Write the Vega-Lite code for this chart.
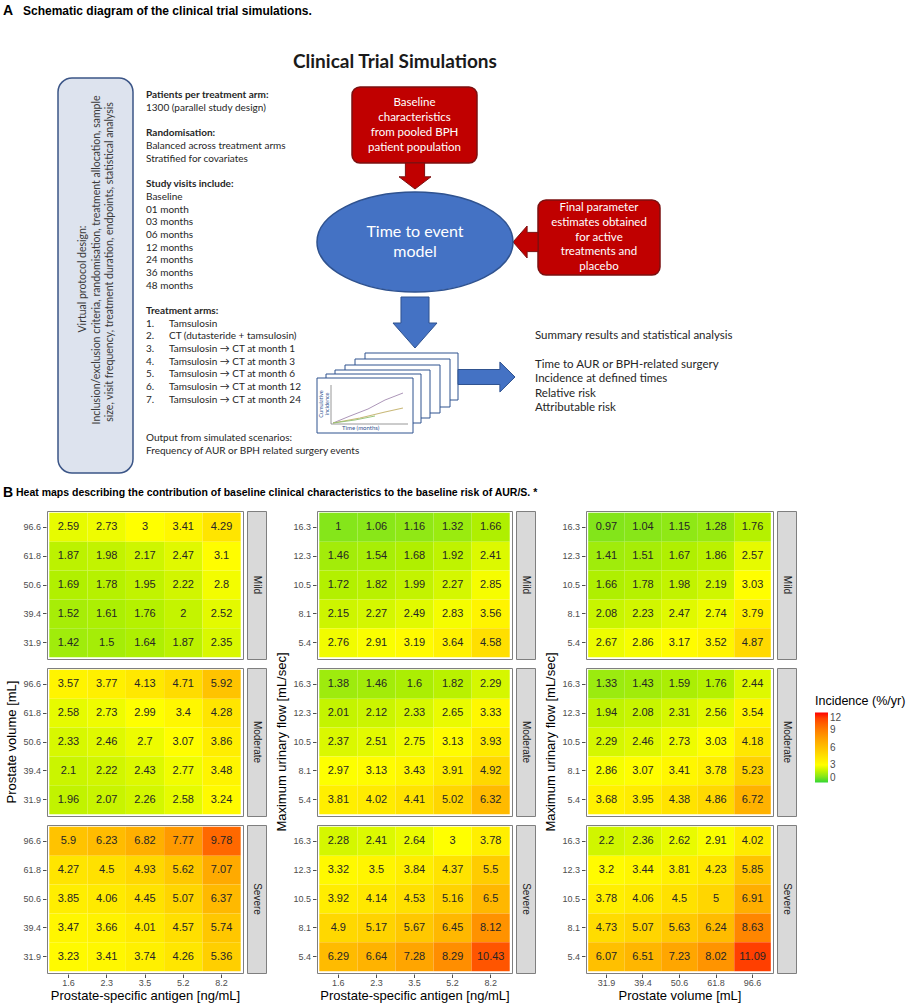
{
 "$schema": "https://vega.github.io/schema/vega-lite/v6.json",
 "padding": {"left": 3, "top": 0, "right": 0, "bottom": 0},
 "background": "white",
 "config": {
  "font": "Liberation Sans",
  "view": {"stroke": null},
  "axis": {"grid": false, "domain": false, "labelFontSize": 9, "labelColor": "#4d4d4d", "tickColor": "#4d4d4d", "tickSize": 3.5, "labelPadding": 2, "titleFontSize": 13, "titleFontWeight": "normal", "titleColor": "#000000", "titlePadding": 3},
  "axisX": {"labelAngle": 0, "labelPadding": 1, "titlePadding": 2},
  "header": {"labels": false, "titleFontSize": 13, "titleFontWeight": "normal", "titleColor": "#000000", "titlePadding": -7, "labelPadding": 0},
  "legend": {"orient": "none", "legendX": 768, "legendY": 695, "direction": "vertical", "gradientLength": 70, "gradientThickness": 13, "titleFontSize": 12.5, "titleFontWeight": "normal", "titleColor": "#000000", "labelFontSize": 10, "labelColor": "#4d4d4d", "gradientStrokeWidth": 0, "titlePadding": 5, "labelOffset": 4, "labelOverlap": false}
 },
 "datasets": {
  "c1": [
   {"sev":"Mild","x":"1.6","y":"96.6","inc":2.59},{"sev":"Mild","x":"2.3","y":"96.6","inc":2.73},{"sev":"Mild","x":"3.5","y":"96.6","inc":3},{"sev":"Mild","x":"5.2","y":"96.6","inc":3.41},{"sev":"Mild","x":"8.2","y":"96.6","inc":4.29},
   {"sev":"Mild","x":"1.6","y":"61.8","inc":1.87},{"sev":"Mild","x":"2.3","y":"61.8","inc":1.98},{"sev":"Mild","x":"3.5","y":"61.8","inc":2.17},{"sev":"Mild","x":"5.2","y":"61.8","inc":2.47},{"sev":"Mild","x":"8.2","y":"61.8","inc":3.1},
   {"sev":"Mild","x":"1.6","y":"50.6","inc":1.69},{"sev":"Mild","x":"2.3","y":"50.6","inc":1.78},{"sev":"Mild","x":"3.5","y":"50.6","inc":1.95},{"sev":"Mild","x":"5.2","y":"50.6","inc":2.22},{"sev":"Mild","x":"8.2","y":"50.6","inc":2.8},
   {"sev":"Mild","x":"1.6","y":"39.4","inc":1.52},{"sev":"Mild","x":"2.3","y":"39.4","inc":1.61},{"sev":"Mild","x":"3.5","y":"39.4","inc":1.76},{"sev":"Mild","x":"5.2","y":"39.4","inc":2},{"sev":"Mild","x":"8.2","y":"39.4","inc":2.52},
   {"sev":"Mild","x":"1.6","y":"31.9","inc":1.42},{"sev":"Mild","x":"2.3","y":"31.9","inc":1.5},{"sev":"Mild","x":"3.5","y":"31.9","inc":1.64},{"sev":"Mild","x":"5.2","y":"31.9","inc":1.87},{"sev":"Mild","x":"8.2","y":"31.9","inc":2.35},
   {"sev":"Moderate","x":"1.6","y":"96.6","inc":3.57},{"sev":"Moderate","x":"2.3","y":"96.6","inc":3.77},{"sev":"Moderate","x":"3.5","y":"96.6","inc":4.13},{"sev":"Moderate","x":"5.2","y":"96.6","inc":4.71},{"sev":"Moderate","x":"8.2","y":"96.6","inc":5.92},
   {"sev":"Moderate","x":"1.6","y":"61.8","inc":2.58},{"sev":"Moderate","x":"2.3","y":"61.8","inc":2.73},{"sev":"Moderate","x":"3.5","y":"61.8","inc":2.99},{"sev":"Moderate","x":"5.2","y":"61.8","inc":3.4},{"sev":"Moderate","x":"8.2","y":"61.8","inc":4.28},
   {"sev":"Moderate","x":"1.6","y":"50.6","inc":2.33},{"sev":"Moderate","x":"2.3","y":"50.6","inc":2.46},{"sev":"Moderate","x":"3.5","y":"50.6","inc":2.7},{"sev":"Moderate","x":"5.2","y":"50.6","inc":3.07},{"sev":"Moderate","x":"8.2","y":"50.6","inc":3.86},
   {"sev":"Moderate","x":"1.6","y":"39.4","inc":2.1},{"sev":"Moderate","x":"2.3","y":"39.4","inc":2.22},{"sev":"Moderate","x":"3.5","y":"39.4","inc":2.43},{"sev":"Moderate","x":"5.2","y":"39.4","inc":2.77},{"sev":"Moderate","x":"8.2","y":"39.4","inc":3.48},
   {"sev":"Moderate","x":"1.6","y":"31.9","inc":1.96},{"sev":"Moderate","x":"2.3","y":"31.9","inc":2.07},{"sev":"Moderate","x":"3.5","y":"31.9","inc":2.26},{"sev":"Moderate","x":"5.2","y":"31.9","inc":2.58},{"sev":"Moderate","x":"8.2","y":"31.9","inc":3.24},
   {"sev":"Severe","x":"1.6","y":"96.6","inc":5.9},{"sev":"Severe","x":"2.3","y":"96.6","inc":6.23},{"sev":"Severe","x":"3.5","y":"96.6","inc":6.82},{"sev":"Severe","x":"5.2","y":"96.6","inc":7.77},{"sev":"Severe","x":"8.2","y":"96.6","inc":9.78},
   {"sev":"Severe","x":"1.6","y":"61.8","inc":4.27},{"sev":"Severe","x":"2.3","y":"61.8","inc":4.5},{"sev":"Severe","x":"3.5","y":"61.8","inc":4.93},{"sev":"Severe","x":"5.2","y":"61.8","inc":5.62},{"sev":"Severe","x":"8.2","y":"61.8","inc":7.07},
   {"sev":"Severe","x":"1.6","y":"50.6","inc":3.85},{"sev":"Severe","x":"2.3","y":"50.6","inc":4.06},{"sev":"Severe","x":"3.5","y":"50.6","inc":4.45},{"sev":"Severe","x":"5.2","y":"50.6","inc":5.07},{"sev":"Severe","x":"8.2","y":"50.6","inc":6.37},
   {"sev":"Severe","x":"1.6","y":"39.4","inc":3.47},{"sev":"Severe","x":"2.3","y":"39.4","inc":3.66},{"sev":"Severe","x":"3.5","y":"39.4","inc":4.01},{"sev":"Severe","x":"5.2","y":"39.4","inc":4.57},{"sev":"Severe","x":"8.2","y":"39.4","inc":5.74},
   {"sev":"Severe","x":"1.6","y":"31.9","inc":3.23},{"sev":"Severe","x":"2.3","y":"31.9","inc":3.41},{"sev":"Severe","x":"3.5","y":"31.9","inc":3.74},{"sev":"Severe","x":"5.2","y":"31.9","inc":4.26},{"sev":"Severe","x":"8.2","y":"31.9","inc":5.36}
  ],
  "c2": [
   {"sev":"Mild","x":"1.6","y":"16.3","inc":1},{"sev":"Mild","x":"2.3","y":"16.3","inc":1.06},{"sev":"Mild","x":"3.5","y":"16.3","inc":1.16},{"sev":"Mild","x":"5.2","y":"16.3","inc":1.32},{"sev":"Mild","x":"8.2","y":"16.3","inc":1.66},
   {"sev":"Mild","x":"1.6","y":"12.3","inc":1.46},{"sev":"Mild","x":"2.3","y":"12.3","inc":1.54},{"sev":"Mild","x":"3.5","y":"12.3","inc":1.68},{"sev":"Mild","x":"5.2","y":"12.3","inc":1.92},{"sev":"Mild","x":"8.2","y":"12.3","inc":2.41},
   {"sev":"Mild","x":"1.6","y":"10.5","inc":1.72},{"sev":"Mild","x":"2.3","y":"10.5","inc":1.82},{"sev":"Mild","x":"3.5","y":"10.5","inc":1.99},{"sev":"Mild","x":"5.2","y":"10.5","inc":2.27},{"sev":"Mild","x":"8.2","y":"10.5","inc":2.85},
   {"sev":"Mild","x":"1.6","y":"8.1","inc":2.15},{"sev":"Mild","x":"2.3","y":"8.1","inc":2.27},{"sev":"Mild","x":"3.5","y":"8.1","inc":2.49},{"sev":"Mild","x":"5.2","y":"8.1","inc":2.83},{"sev":"Mild","x":"8.2","y":"8.1","inc":3.56},
   {"sev":"Mild","x":"1.6","y":"5.4","inc":2.76},{"sev":"Mild","x":"2.3","y":"5.4","inc":2.91},{"sev":"Mild","x":"3.5","y":"5.4","inc":3.19},{"sev":"Mild","x":"5.2","y":"5.4","inc":3.64},{"sev":"Mild","x":"8.2","y":"5.4","inc":4.58},
   {"sev":"Moderate","x":"1.6","y":"16.3","inc":1.38},{"sev":"Moderate","x":"2.3","y":"16.3","inc":1.46},{"sev":"Moderate","x":"3.5","y":"16.3","inc":1.6},{"sev":"Moderate","x":"5.2","y":"16.3","inc":1.82},{"sev":"Moderate","x":"8.2","y":"16.3","inc":2.29},
   {"sev":"Moderate","x":"1.6","y":"12.3","inc":2.01},{"sev":"Moderate","x":"2.3","y":"12.3","inc":2.12},{"sev":"Moderate","x":"3.5","y":"12.3","inc":2.33},{"sev":"Moderate","x":"5.2","y":"12.3","inc":2.65},{"sev":"Moderate","x":"8.2","y":"12.3","inc":3.33},
   {"sev":"Moderate","x":"1.6","y":"10.5","inc":2.37},{"sev":"Moderate","x":"2.3","y":"10.5","inc":2.51},{"sev":"Moderate","x":"3.5","y":"10.5","inc":2.75},{"sev":"Moderate","x":"5.2","y":"10.5","inc":3.13},{"sev":"Moderate","x":"8.2","y":"10.5","inc":3.93},
   {"sev":"Moderate","x":"1.6","y":"8.1","inc":2.97},{"sev":"Moderate","x":"2.3","y":"8.1","inc":3.13},{"sev":"Moderate","x":"3.5","y":"8.1","inc":3.43},{"sev":"Moderate","x":"5.2","y":"8.1","inc":3.91},{"sev":"Moderate","x":"8.2","y":"8.1","inc":4.92},
   {"sev":"Moderate","x":"1.6","y":"5.4","inc":3.81},{"sev":"Moderate","x":"2.3","y":"5.4","inc":4.02},{"sev":"Moderate","x":"3.5","y":"5.4","inc":4.41},{"sev":"Moderate","x":"5.2","y":"5.4","inc":5.02},{"sev":"Moderate","x":"8.2","y":"5.4","inc":6.32},
   {"sev":"Severe","x":"1.6","y":"16.3","inc":2.28},{"sev":"Severe","x":"2.3","y":"16.3","inc":2.41},{"sev":"Severe","x":"3.5","y":"16.3","inc":2.64},{"sev":"Severe","x":"5.2","y":"16.3","inc":3},{"sev":"Severe","x":"8.2","y":"16.3","inc":3.78},
   {"sev":"Severe","x":"1.6","y":"12.3","inc":3.32},{"sev":"Severe","x":"2.3","y":"12.3","inc":3.5},{"sev":"Severe","x":"3.5","y":"12.3","inc":3.84},{"sev":"Severe","x":"5.2","y":"12.3","inc":4.37},{"sev":"Severe","x":"8.2","y":"12.3","inc":5.5},
   {"sev":"Severe","x":"1.6","y":"10.5","inc":3.92},{"sev":"Severe","x":"2.3","y":"10.5","inc":4.14},{"sev":"Severe","x":"3.5","y":"10.5","inc":4.53},{"sev":"Severe","x":"5.2","y":"10.5","inc":5.16},{"sev":"Severe","x":"8.2","y":"10.5","inc":6.5},
   {"sev":"Severe","x":"1.6","y":"8.1","inc":4.9},{"sev":"Severe","x":"2.3","y":"8.1","inc":5.17},{"sev":"Severe","x":"3.5","y":"8.1","inc":5.67},{"sev":"Severe","x":"5.2","y":"8.1","inc":6.45},{"sev":"Severe","x":"8.2","y":"8.1","inc":8.12},
   {"sev":"Severe","x":"1.6","y":"5.4","inc":6.29},{"sev":"Severe","x":"2.3","y":"5.4","inc":6.64},{"sev":"Severe","x":"3.5","y":"5.4","inc":7.28},{"sev":"Severe","x":"5.2","y":"5.4","inc":8.29},{"sev":"Severe","x":"8.2","y":"5.4","inc":10.43}
  ],
  "c3": [
   {"sev":"Mild","x":"31.9","y":"16.3","inc":0.97},{"sev":"Mild","x":"39.4","y":"16.3","inc":1.04},{"sev":"Mild","x":"50.6","y":"16.3","inc":1.15},{"sev":"Mild","x":"61.8","y":"16.3","inc":1.28},{"sev":"Mild","x":"96.6","y":"16.3","inc":1.76},
   {"sev":"Mild","x":"31.9","y":"12.3","inc":1.41},{"sev":"Mild","x":"39.4","y":"12.3","inc":1.51},{"sev":"Mild","x":"50.6","y":"12.3","inc":1.67},{"sev":"Mild","x":"61.8","y":"12.3","inc":1.86},{"sev":"Mild","x":"96.6","y":"12.3","inc":2.57},
   {"sev":"Mild","x":"31.9","y":"10.5","inc":1.66},{"sev":"Mild","x":"39.4","y":"10.5","inc":1.78},{"sev":"Mild","x":"50.6","y":"10.5","inc":1.98},{"sev":"Mild","x":"61.8","y":"10.5","inc":2.19},{"sev":"Mild","x":"96.6","y":"10.5","inc":3.03},
   {"sev":"Mild","x":"31.9","y":"8.1","inc":2.08},{"sev":"Mild","x":"39.4","y":"8.1","inc":2.23},{"sev":"Mild","x":"50.6","y":"8.1","inc":2.47},{"sev":"Mild","x":"61.8","y":"8.1","inc":2.74},{"sev":"Mild","x":"96.6","y":"8.1","inc":3.79},
   {"sev":"Mild","x":"31.9","y":"5.4","inc":2.67},{"sev":"Mild","x":"39.4","y":"5.4","inc":2.86},{"sev":"Mild","x":"50.6","y":"5.4","inc":3.17},{"sev":"Mild","x":"61.8","y":"5.4","inc":3.52},{"sev":"Mild","x":"96.6","y":"5.4","inc":4.87},
   {"sev":"Moderate","x":"31.9","y":"16.3","inc":1.33},{"sev":"Moderate","x":"39.4","y":"16.3","inc":1.43},{"sev":"Moderate","x":"50.6","y":"16.3","inc":1.59},{"sev":"Moderate","x":"61.8","y":"16.3","inc":1.76},{"sev":"Moderate","x":"96.6","y":"16.3","inc":2.44},
   {"sev":"Moderate","x":"31.9","y":"12.3","inc":1.94},{"sev":"Moderate","x":"39.4","y":"12.3","inc":2.08},{"sev":"Moderate","x":"50.6","y":"12.3","inc":2.31},{"sev":"Moderate","x":"61.8","y":"12.3","inc":2.56},{"sev":"Moderate","x":"96.6","y":"12.3","inc":3.54},
   {"sev":"Moderate","x":"31.9","y":"10.5","inc":2.29},{"sev":"Moderate","x":"39.4","y":"10.5","inc":2.46},{"sev":"Moderate","x":"50.6","y":"10.5","inc":2.73},{"sev":"Moderate","x":"61.8","y":"10.5","inc":3.03},{"sev":"Moderate","x":"96.6","y":"10.5","inc":4.18},
   {"sev":"Moderate","x":"31.9","y":"8.1","inc":2.86},{"sev":"Moderate","x":"39.4","y":"8.1","inc":3.07},{"sev":"Moderate","x":"50.6","y":"8.1","inc":3.41},{"sev":"Moderate","x":"61.8","y":"8.1","inc":3.78},{"sev":"Moderate","x":"96.6","y":"8.1","inc":5.23},
   {"sev":"Moderate","x":"31.9","y":"5.4","inc":3.68},{"sev":"Moderate","x":"39.4","y":"5.4","inc":3.95},{"sev":"Moderate","x":"50.6","y":"5.4","inc":4.38},{"sev":"Moderate","x":"61.8","y":"5.4","inc":4.86},{"sev":"Moderate","x":"96.6","y":"5.4","inc":6.72},
   {"sev":"Severe","x":"31.9","y":"16.3","inc":2.2},{"sev":"Severe","x":"39.4","y":"16.3","inc":2.36},{"sev":"Severe","x":"50.6","y":"16.3","inc":2.62},{"sev":"Severe","x":"61.8","y":"16.3","inc":2.91},{"sev":"Severe","x":"96.6","y":"16.3","inc":4.02},
   {"sev":"Severe","x":"31.9","y":"12.3","inc":3.2},{"sev":"Severe","x":"39.4","y":"12.3","inc":3.44},{"sev":"Severe","x":"50.6","y":"12.3","inc":3.81},{"sev":"Severe","x":"61.8","y":"12.3","inc":4.23},{"sev":"Severe","x":"96.6","y":"12.3","inc":5.85},
   {"sev":"Severe","x":"31.9","y":"10.5","inc":3.78},{"sev":"Severe","x":"39.4","y":"10.5","inc":4.06},{"sev":"Severe","x":"50.6","y":"10.5","inc":4.5},{"sev":"Severe","x":"61.8","y":"10.5","inc":5},{"sev":"Severe","x":"96.6","y":"10.5","inc":6.91},
   {"sev":"Severe","x":"31.9","y":"8.1","inc":4.73},{"sev":"Severe","x":"39.4","y":"8.1","inc":5.07},{"sev":"Severe","x":"50.6","y":"8.1","inc":5.63},{"sev":"Severe","x":"61.8","y":"8.1","inc":6.24},{"sev":"Severe","x":"96.6","y":"8.1","inc":8.63},
   {"sev":"Severe","x":"31.9","y":"5.4","inc":6.07},{"sev":"Severe","x":"39.4","y":"5.4","inc":6.51},{"sev":"Severe","x":"50.6","y":"5.4","inc":7.23},{"sev":"Severe","x":"61.8","y":"5.4","inc":8.02},{"sev":"Severe","x":"96.6","y":"5.4","inc":11.09}
  ],
  "strips": [{"sev": "Mild"}, {"sev": "Moderate"}, {"sev": "Severe"}]
 },
 "spacing": 5,
 "vconcat": [
  {
   "width": 863, "height": 505,
   "encoding": {
    "x": {"field": "x", "type": "quantitative", "scale": {"domain": [47, 910], "nice": false, "zero": false}, "axis": null},
    "y": {"field": "y", "type": "quantitative", "scale": {"domain": [0, 505], "nice": false, "zero": false, "reverse": true}, "axis": null}
   },
   "layer": [
    {"data": {"values": [{"x": 58, "x2": 133, "y": 78, "y2": 473}]}, "mark": {"type": "rect", "fill": "#dde3ee", "stroke": "#3b5587", "strokeWidth": 1.5, "cornerRadius": 14}, "encoding": {"x2": {"field": "x2"}, "y2": {"field": "y2"}}},
    {"data": {"values": [
      {"t": "Virtual protocol design:", "x": 83, "y": 279},
      {"t": "Inclusion/exclusion criteria, randomisation, treatment allocation, sample", "x": 97, "y": 260},
      {"t": "size, visit frequency, treatment duration, endpoints, statistical analysis", "x": 110, "y": 262}]},
     "mark": {"type": "text", "angle": 270, "font": "Lato", "fontSize": 10.5, "color": "#3a3a3a", "align": "center", "baseline": "middle"}, "encoding": {"text": {"field": "t"}}},
    {"data": {"values": [
      {"t": "1300 (parallel study design)", "x": 146, "y": 108},
      {"t": "Balanced across treatment arms", "x": 146, "y": 146},
      {"t": "Stratified for covariates", "x": 146, "y": 159},
      {"t": "Baseline", "x": 146, "y": 197},
      {"t": "01 month", "x": 146, "y": 210},
      {"t": "03 months", "x": 146, "y": 222},
      {"t": "06 months", "x": 146, "y": 235},
      {"t": "12 months", "x": 146, "y": 248},
      {"t": "24 months", "x": 146, "y": 260},
      {"t": "36 months", "x": 146, "y": 273},
      {"t": "48 months", "x": 146, "y": 286},
      {"t": "1.", "x": 146, "y": 324}, {"t": "Tamsulosin", "x": 169, "y": 324},
      {"t": "2.", "x": 146, "y": 336}, {"t": "CT (dutasteride + tamsulosin)", "x": 169, "y": 336},
      {"t": "3.", "x": 146, "y": 349}, {"t": "Tamsulosin → CT at month 1", "x": 169, "y": 349},
      {"t": "4.", "x": 146, "y": 362}, {"t": "Tamsulosin → CT at month 3", "x": 169, "y": 362},
      {"t": "5.", "x": 146, "y": 374}, {"t": "Tamsulosin → CT at month 6", "x": 169, "y": 374},
      {"t": "6.", "x": 146, "y": 387}, {"t": "Tamsulosin → CT at month 12", "x": 169, "y": 387},
      {"t": "7.", "x": 146, "y": 400}, {"t": "Tamsulosin → CT at month 24", "x": 169, "y": 400},
      {"t": "Output from simulated scenarios:", "x": 146, "y": 438},
      {"t": "Frequency of AUR or BPH related surgery events", "x": 146, "y": 451}]},
     "mark": {"type": "text", "font": "Lato", "fontSize": 10, "color": "#262626", "align": "left", "baseline": "middle"}, "encoding": {"text": {"field": "t"}}},
    {"data": {"values": [
      {"t": "Patients per treatment arm:", "x": 146, "y": 95},
      {"t": "Randomisation:", "x": 146, "y": 133},
      {"t": "Study visits include:", "x": 146, "y": 184},
      {"t": "Treatment arms:", "x": 146, "y": 311}]},
     "mark": {"type": "text", "font": "Lato", "fontSize": 10, "fontWeight": "bold", "color": "#262626", "align": "left", "baseline": "middle"}, "encoding": {"text": {"field": "t"}}},
    {"data": {"values": [{"x": 352, "x2": 477, "y": 87, "y2": 163}, {"x": 538, "x2": 660, "y": 200, "y2": 275}]}, "mark": {"type": "rect", "fill": "#c00000", "stroke": "#7b1010", "strokeWidth": 1.5, "cornerRadius": 8}, "encoding": {"x2": {"field": "x2"}, "y2": {"field": "y2"}}},
    {"data": {"values": [
      {"t": "Baseline", "x": 414.5, "y": 103},
      {"t": "characteristics", "x": 414.5, "y": 118},
      {"t": "from pooled BPH", "x": 414.5, "y": 133},
      {"t": "patient population", "x": 414.5, "y": 148},
      {"t": "Final parameter", "x": 599, "y": 208},
      {"t": "estimates obtained", "x": 599, "y": 223},
      {"t": "for active", "x": 599, "y": 238},
      {"t": "treatments and", "x": 599, "y": 252},
      {"t": "placebo", "x": 599, "y": 267}]},
     "mark": {"type": "text", "font": "Lato", "fontSize": 11.5, "color": "#ffffff", "align": "center", "baseline": "middle"}, "encoding": {"text": {"field": "t"}}},
    {"data": {"values": [{"x": 415, "y": 176}]}, "mark": {"type": "point", "shape": "M -0.6 -0.8125 L 0.6 -0.8125 L 0.6 0.05 L 1 0.05 L 0 0.8125 L -1 0.05 L -0.6 0.05 Z", "size": 1024, "filled": true, "fill": "#c00000", "stroke": "#7b1010", "strokeWidth": 1, "opacity": 1}, "encoding": {}},
    {"data": {"values": [{"x": 525.5, "y": 242}]}, "mark": {"type": "point", "shape": "M 0.78 -0.6 L 0.1 -0.6 L 0.1 -1 L -0.78 0 L 0.1 1 L 0.1 0.6 L 0.78 0.6 Z", "size": 1024, "filled": true, "fill": "#c00000", "stroke": "#7b1010", "strokeWidth": 1, "opacity": 1}, "encoding": {}},
    {"data": {"values": [{"x": 415, "y": 242}]}, "mark": {"type": "point", "shape": "M -1 0 A 1 0.51 0 1 1 1 0 A 1 0.51 0 1 1 -1 0 Z", "size": 38416, "filled": true, "fill": "#4472c4", "stroke": "#2f528f", "strokeWidth": 1.5, "opacity": 1}, "encoding": {}},
    {"data": {"values": [{"t": "Time to event", "x": 415, "y": 232}, {"t": "model", "x": 415, "y": 252}]}, "mark": {"type": "text", "font": "Lato", "fontSize": 16, "color": "#ffffff", "align": "center", "baseline": "middle"}, "encoding": {"text": {"field": "t"}}},
    {"data": {"values": [{"x": 415, "y": 322.5}]}, "mark": {"type": "point", "shape": "M -0.55 -1 L 0.55 -1 L 0.55 0.02 L 0.863 0.02 L 0 1 L -0.863 0.02 L -0.55 0.02 Z", "size": 2601, "filled": true, "fill": "#4472c4", "stroke": "#2f528f", "strokeWidth": 1, "opacity": 1}, "encoding": {}},
    {"data": {"values": [
      {"x": 365, "x2": 458, "y": 353, "y2": 400},
      {"x": 355, "x2": 450, "y": 359, "y2": 407},
      {"x": 345, "x2": 440, "y": 365, "y2": 413},
      {"x": 335, "x2": 430, "y": 370, "y2": 418},
      {"x": 326, "x2": 421, "y": 374, "y2": 423},
      {"x": 317, "x2": 413, "y": 378, "y2": 433}]},
     "mark": {"type": "rect", "fill": "#ffffff", "stroke": "#2f528f", "strokeWidth": 1}, "encoding": {"x2": {"field": "x2"}, "y2": {"field": "y2"}}},
    {"data": {"values": [{"x": 331, "x2": 331, "y": 385, "y2": 424}, {"x": 331, "x2": 408, "y": 424, "y2": 424}]}, "mark": {"type": "rule", "stroke": "#7f7f7f", "strokeWidth": 0.8}, "encoding": {"x2": {"field": "x2"}, "y2": {"field": "y2"}}},
    {"data": {"values": [{"x": 333, "y": 423}, {"x": 350, "y": 416}, {"x": 368, "y": 409}, {"x": 385, "y": 400}, {"x": 403, "y": 393}]}, "mark": {"type": "line", "stroke": "#a38ab0", "strokeWidth": 0.9}, "encoding": {}},
    {"data": {"values": [{"x": 333, "y": 423}, {"x": 360, "y": 418}, {"x": 385, "y": 412}, {"x": 403, "y": 408}]}, "mark": {"type": "line", "stroke": "#c9b97a", "strokeWidth": 1.2}, "encoding": {}},
    {"data": {"values": [{"x": 333, "y": 423}, {"x": 355, "y": 420}, {"x": 375, "y": 416}]}, "mark": {"type": "line", "stroke": "#8fbf6f", "strokeWidth": 0.9}, "encoding": {}},
    {"data": {"values": [{"t": "Cumulative", "x": 321, "y": 404}, {"t": "incidence", "x": 326.5, "y": 404}]}, "mark": {"type": "text", "angle": 270, "font": "Lato", "fontSize": 5.5, "color": "#2f528f", "align": "center", "baseline": "middle"}, "encoding": {"text": {"field": "t"}}},
    {"data": {"values": [{"t": "Time (months)", "x": 342, "y": 428}]}, "mark": {"type": "text", "font": "Lato", "fontSize": 6, "color": "#2f528f", "align": "left", "baseline": "middle"}, "encoding": {"text": {"field": "t"}}},
    {"data": {"values": [{"x": 486.5, "y": 377}]}, "mark": {"type": "point", "shape": "M -1 -0.263 L 0.47 -0.263 L 0.47 -0.526 L 1 0 L 0.47 0.526 L 0.47 0.263 L -1 0.263 Z", "size": 3249, "filled": true, "fill": "#4472c4", "stroke": "#2f528f", "strokeWidth": 1, "opacity": 1}, "encoding": {}},
    {"data": {"values": [
      {"t": "Summary results and statistical analysis", "x": 535, "y": 336},
      {"t": "Time to AUR or BPH-related surgery", "x": 535, "y": 365},
      {"t": "Incidence at defined times", "x": 535, "y": 379},
      {"t": "Relative risk", "x": 535, "y": 394},
      {"t": "Attributable risk", "x": 535, "y": 408}]},
     "mark": {"type": "text", "font": "Lato", "fontSize": 11.5, "color": "#262626", "align": "left", "baseline": "middle"}, "encoding": {"text": {"field": "t"}}},
    {"data": {"values": [{"t": "Clinical Trial Simulations", "x": 293, "y": 62}]}, "mark": {"type": "text", "font": "Lato", "fontSize": 19, "fontWeight": "bold", "color": "#1a1a1a", "align": "left", "baseline": "middle"}, "encoding": {"text": {"field": "t"}}},
    {"data": {"values": [{"t": "A", "x": 3, "y": 11}, {"t": "B", "x": 3, "y": 493}]}, "mark": {"type": "text", "font": "Liberation Sans", "fontSize": 14, "fontWeight": "bold", "color": "#000000", "align": "left", "baseline": "middle"}, "encoding": {"text": {"field": "t"}}},
    {"data": {"values": [{"t": "Schematic diagram of the clinical trial simulations.", "x": 23, "y": 11}]}, "mark": {"type": "text", "font": "Liberation Sans", "fontSize": 12, "fontWeight": "bold", "color": "#000000", "align": "left", "baseline": "middle"}, "encoding": {"text": {"field": "t"}}},
    {"data": {"values": [{"t": "Heat maps describing the contribution of baseline clinical characteristics to the baseline risk of AUR/S. *", "x": 16, "y": 493}]}, "mark": {"type": "text", "font": "Liberation Sans", "fontSize": 10.5, "fontWeight": "bold", "color": "#000000", "align": "left", "baseline": "middle"}, "encoding": {"text": {"field": "t"}}}
   ]
  },
  {
   "spacing": 8,
   "hconcat": [
    {"spacing": 2, "hconcat": [
     {"data": {"name": "c1"},
      "facet": {"row": {"field": "sev", "type": "nominal", "title": "Prostate volume [mL]"}},
      "spacing": {"row": 7},
      "spec": {"width": 196, "height": 148, "view": {"stroke": "#7f7f7f"},
       "encoding": {"x": {"field": "x", "type": "ordinal", "sort": ["1.6","2.3","3.5","5.2","8.2"], "scale": {"paddingInner": 0, "paddingOuter": 0.06}, "axis": {"title": "Prostate-specific antigen [ng/mL]"}},
                    "y": {"field": "y", "type": "ordinal", "sort": ["96.6","61.8","50.6","39.4","31.9"], "scale": {"paddingInner": 0, "paddingOuter": 0.06}, "axis": {"title": null}}},
       "layer": [
        {"mark": {"type": "rect"}, "encoding": {"color": {"field": "inc", "type": "quantitative", "title": "Incidence (%/yr)", "scale": {"domain": [0, 3, 12], "range": ["#33d633", "#ffff00", "#ff0000"]}, "legend": {"values": [0, 3, 6, 9, 12]}}}},
        {"mark": {"type": "text", "fontSize": 11, "color": "#262626"}, "encoding": {"text": {"field": "inc", "type": "quantitative", "format": "~g"}}}]}},
     {"data": {"name": "strips"},
      "facet": {"row": {"field": "sev", "type": "nominal", "header": null}},
      "spacing": {"row": 7},
      "spec": {"width": 19, "height": 148, "view": {"fill": "#d9d9d9", "stroke": "#7f7f7f"}, "mark": {"type": "text", "angle": 90, "fontSize": 10, "color": "#1a1a1a"}, "encoding": {"text": {"field": "sev"}}}}
    ]},
    {"spacing": 2, "hconcat": [
     {"data": {"name": "c2"},
      "facet": {"row": {"field": "sev", "type": "nominal", "title": "Maximum urinary flow [mL/sec]"}},
      "spacing": {"row": 7},
      "spec": {"width": 195, "height": 148, "view": {"stroke": "#7f7f7f"},
       "encoding": {"x": {"field": "x", "type": "ordinal", "sort": ["1.6","2.3","3.5","5.2","8.2"], "scale": {"paddingInner": 0, "paddingOuter": 0.06}, "axis": {"title": "Prostate-specific antigen [ng/mL]"}},
                    "y": {"field": "y", "type": "ordinal", "sort": ["16.3","12.3","10.5","8.1","5.4"], "scale": {"paddingInner": 0, "paddingOuter": 0.06}, "axis": {"title": null}}},
       "layer": [
        {"mark": {"type": "rect"}, "encoding": {"color": {"field": "inc", "type": "quantitative", "title": "Incidence (%/yr)", "scale": {"domain": [0, 3, 12], "range": ["#33d633", "#ffff00", "#ff0000"]}, "legend": {"values": [0, 3, 6, 9, 12]}}}},
        {"mark": {"type": "text", "fontSize": 11, "color": "#262626"}, "encoding": {"text": {"field": "inc", "type": "quantitative", "format": "~g"}}}]}},
     {"data": {"name": "strips"},
      "facet": {"row": {"field": "sev", "type": "nominal", "header": null}},
      "spacing": {"row": 7},
      "spec": {"width": 19, "height": 148, "view": {"fill": "#d9d9d9", "stroke": "#7f7f7f"}, "mark": {"type": "text", "angle": 90, "fontSize": 10, "color": "#1a1a1a"}, "encoding": {"text": {"field": "sev"}}}}
    ]},
    {"spacing": 2, "hconcat": [
     {"data": {"name": "c3"},
      "facet": {"row": {"field": "sev", "type": "nominal", "title": "Maximum urinary flow [mL/sec]"}},
      "spacing": {"row": 7},
      "spec": {"width": 187, "height": 148, "view": {"stroke": "#7f7f7f"},
       "encoding": {"x": {"field": "x", "type": "ordinal", "sort": ["31.9","39.4","50.6","61.8","96.6"], "scale": {"paddingInner": 0, "paddingOuter": 0.06}, "axis": {"title": "Prostate volume [mL]"}},
                    "y": {"field": "y", "type": "ordinal", "sort": ["16.3","12.3","10.5","8.1","5.4"], "scale": {"paddingInner": 0, "paddingOuter": 0.06}, "axis": {"title": null}}},
       "layer": [
        {"mark": {"type": "rect"}, "encoding": {"color": {"field": "inc", "type": "quantitative", "title": "Incidence (%/yr)", "scale": {"domain": [0, 3, 12], "range": ["#33d633", "#ffff00", "#ff0000"]}, "legend": {"values": [0, 3, 6, 9, 12]}}}},
        {"mark": {"type": "text", "fontSize": 11, "color": "#262626"}, "encoding": {"text": {"field": "inc", "type": "quantitative", "format": "~g"}}}]}},
     {"data": {"name": "strips"},
      "facet": {"row": {"field": "sev", "type": "nominal", "header": null}},
      "spacing": {"row": 7},
      "spec": {"width": 19, "height": 148, "view": {"fill": "#d9d9d9", "stroke": "#7f7f7f"}, "mark": {"type": "text", "angle": 90, "fontSize": 10, "color": "#1a1a1a"}, "encoding": {"text": {"field": "sev"}}}}
    ]}
   ]
  }
 ]
}
